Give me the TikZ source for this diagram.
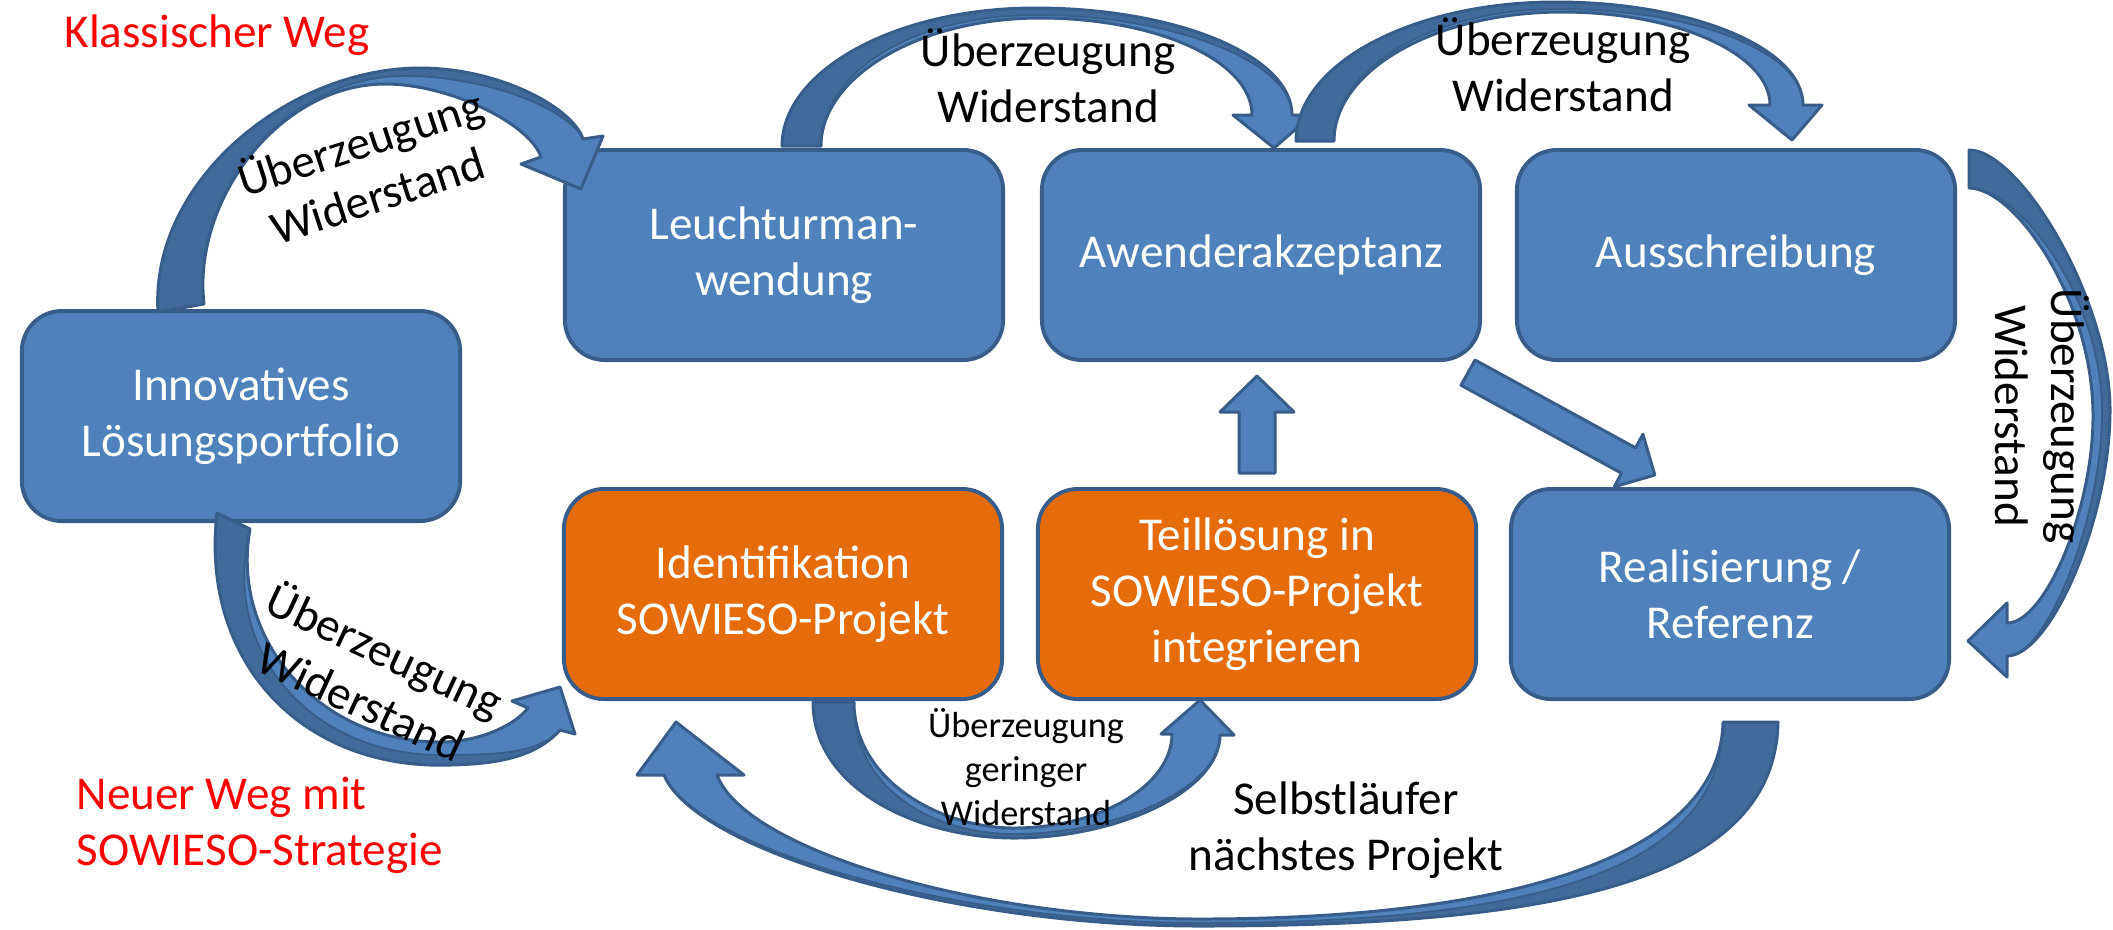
\documentclass[tikz,border=0pt]{standalone}
\usepackage{fontspec}
\setmainfont{Carlito}
\definecolor{boxblue}{HTML}{4F81BD}
\definecolor{bordc}{HTML}{385D8A}
\definecolor{boxorange}{HTML}{E46C0A}
\definecolor{arrdark}{HTML}{41699B}
\definecolor{redtxt}{HTML}{FF0000}
\newcommand\myBoxFont{\fontsize{13.4}{16}\selectfont}
\newcommand\mySmallFont{\fontsize{10.3}{12.5}\selectfont}
\begin{document}
\begin{tikzpicture}[x=0.01cm,y=-0.01cm,
  box/.style={draw=bordc, line width=1.1pt, rounded corners=0.4cm,
    minimum width=4.38cm, minimum height=2.1cm, align=center,
    text=white, font=\myBoxFont, inner sep=0pt},
  bluebox/.style={box, fill=boxblue},
  orangebox/.style={box, fill=boxorange},
  adark/.style={fill=arrdark},
  alight/.style={fill=boxblue},
  aline/.style={draw=bordc, line width=0.85pt, line join=round},
  asep/.style={draw=bordc, line width=0.5pt},
  lbl/.style={align=center, font=\myBoxFont, inner sep=0pt, text=black},
  redlbl/.style={font=\myBoxFont, inner sep=0pt, text=redtxt}]
\useasboundingbox (0,0) rectangle (2113,929);

% boxes
\node[bluebox] (innov) at (241,416) {Innovatives\\Lösungsportfolio};
\node[bluebox] (leucht) at (784,255) {Leuchturman-\\wendung};
\node[bluebox] (awend) at (1261,255) {Awenderakzeptanz};
\node[bluebox] (aussch) at (1736,255) {Ausschreibung};
\node[orangebox] (ident) at (783,594) {Identifikation\\SOWIESO-Projekt};
\node[orangebox] (teil) at (1257,594) {Teillösung in\\SOWIESO-Projekt\\integrieren};
\node[bluebox] (real) at (1730,594) {Realisierung /\\Referenz};

% Arrow A: innov -> leucht
\fill[adark] (158,312) .. controls (150,180) and (290,68) .. (420,68) .. controls (500,68) and (573,108) .. (583,139)
  .. controls (568,108) and (485,76) .. (405,76) .. controls (285,76) and (190,195) .. (204,304) -- cycle;
\fill[alight] (204,304) .. controls (190,195) and (285,76) .. (405,76) .. controls (485,76) and (568,108) .. (583,139)
  -- (603,136) -- (581,189) -- (521,164) -- (541,157)
  .. controls (530,124) and (450,84) .. (385,84) .. controls (280,84) and (192,200) .. (204,304) -- cycle;
\draw[asep] (204,304) .. controls (190,195) and (285,76) .. (405,76) .. controls (485,76) and (568,108) .. (583,139);
\draw[aline] (158,312) .. controls (150,180) and (290,68) .. (420,68) .. controls (500,68) and (573,108) .. (583,139)
  -- (603,136) -- (581,189) -- (521,164) -- (541,157)
  .. controls (530,124) and (450,84) .. (385,84) .. controls (280,84) and (192,200) .. (204,304) -- cycle;

% Arrow B: leucht -> awend
\fill[adark] (782,146) .. controls (782,71) and (895,8) .. (1035,8) .. controls (1177,8) and (1292,56) .. (1292,115)
  .. controls (1292,60) and (1168,15) .. (1037,15) .. controls (908,15) and (821,75) .. (821,146) -- cycle;
\fill[alight] (821,146) .. controls (821,75) and (908,15) .. (1037,15) .. controls (1168,15) and (1292,60) .. (1292,115)
  -- (1312,115) -- (1274,148) -- (1233,115) -- (1252,115)
  .. controls (1252,61) and (1157,18) .. (1040,18) .. controls (919,18) and (821,77) .. (821,146) -- cycle;
\draw[asep] (821,146) .. controls (821,75) and (908,15) .. (1037,15) .. controls (1168,15) and (1292,60) .. (1292,115);
\draw[aline] (782,146) .. controls (782,71) and (895,8) .. (1035,8) .. controls (1177,8) and (1292,56) .. (1292,115)
  -- (1312,115) -- (1274,148) -- (1233,115) -- (1252,115)
  .. controls (1252,61) and (1157,18) .. (1040,18) .. controls (919,18) and (821,77) .. (821,146) -- cycle;

% Arrow C: awend -> aussch
\fill[adark] (1296,141) .. controls (1296,64) and (1412,2) .. (1556,2) .. controls (1692,2) and (1803,48) .. (1803,105)
  .. controls (1803,50) and (1690,9) .. (1559,9) .. controls (1432,9) and (1334,68) .. (1334,141) -- cycle;
\fill[alight] (1334,141) .. controls (1334,68) and (1432,9) .. (1559,9) .. controls (1690,9) and (1803,50) .. (1803,105)
  -- (1822,105) -- (1792,140) -- (1749,105) -- (1770,105)
  .. controls (1770,54) and (1677,12) .. (1562,12) .. controls (1436,12) and (1334,70) .. (1334,141) -- cycle;
\draw[asep] (1334,141) .. controls (1334,68) and (1432,9) .. (1559,9) .. controls (1690,9) and (1803,50) .. (1803,105);
\draw[aline] (1296,141) .. controls (1296,64) and (1412,2) .. (1556,2) .. controls (1692,2) and (1803,48) .. (1803,105)
  -- (1822,105) -- (1792,140) -- (1749,105) -- (1770,105)
  .. controls (1770,54) and (1677,12) .. (1562,12) .. controls (1436,12) and (1334,70) .. (1334,141) -- cycle;

% Arrow D: aussch -> real
\fill[adark] (1969,150) .. controls (2020,150) and (2110,300) .. (2110,410) .. controls (2110,520) and (2050,656) .. (2007,656)
  .. controls (2048,656) and (2102,515) .. (2102,413) .. controls (2102,295) and (2018,188) .. (1969,188) -- cycle;
\fill[alight] (1969,188) .. controls (2018,188) and (2102,295) .. (2102,413) .. controls (2102,515) and (2048,656) .. (2007,656)
  -- (2007,677) -- (1968,641) -- (2007,603) -- (2007,623)
  .. controls (2045,623) and (2093,510) .. (2093,416) .. controls (2093,300) and (2015,188) .. (1969,188) -- cycle;
\draw[asep] (1969,188) .. controls (2018,188) and (2102,295) .. (2102,413) .. controls (2102,515) and (2048,656) .. (2007,656);
\draw[aline] (1969,150) .. controls (2020,150) and (2110,300) .. (2110,410) .. controls (2110,520) and (2050,656) .. (2007,656)
  -- (2007,677) -- (1968,641) -- (2007,603) -- (2007,623)
  .. controls (2045,623) and (2093,510) .. (2093,416) .. controls (2093,300) and (2015,188) .. (1969,188) -- cycle;

% Arrow E: innov -> ident
\fill[adark] (217,513) .. controls (200,660) and (300,770) .. (450,765) .. controls (495,764) and (535,758) .. (560,730)
  .. controls (535,756) and (490,754) .. (445,755) .. controls (310,757) and (220,650) .. (250,529) -- cycle;
\fill[alight] (250,529) .. controls (220,650) and (310,757) .. (445,755) .. controls (490,754) and (535,756) .. (560,730)
  -- (575,734) -- (560,687) -- (512,701) -- (528,708)
  .. controls (515,725) and (480,742) .. (440,742) .. controls (320,742) and (230,640) .. (250,529) -- cycle;
\draw[asep] (250,529) .. controls (220,650) and (310,757) .. (445,755) .. controls (490,754) and (535,756) .. (560,730);
\draw[aline] (217,513) .. controls (200,660) and (300,770) .. (450,765) .. controls (495,764) and (535,758) .. (560,730)
  -- (575,734) -- (560,687) -- (512,701) -- (528,708)
  .. controls (515,725) and (480,742) .. (440,742) .. controls (320,742) and (230,640) .. (250,529) -- cycle;

% Arrow F: ident -> teil
\fill[adark] (813,702) .. controls (813,790) and (920,838) .. (1014,838) .. controls (1120,838) and (1220,790) .. (1220,735)
  .. controls (1220,788) and (1117,834) .. (1014,834) .. controls (930,834) and (852,786) .. (854,702) -- cycle;
\fill[alight] (854,702) .. controls (852,786) and (930,834) .. (1014,834) .. controls (1117,834) and (1220,788) .. (1220,735)
  -- (1234,735) -- (1200,700) -- (1161,734) -- (1172,734)
  .. controls (1172,785) and (1100,828) .. (1014,828) .. controls (940,828) and (854,780) .. (854,702) -- cycle;
\draw[asep] (854,702) .. controls (852,786) and (930,834) .. (1014,834) .. controls (1117,834) and (1220,788) .. (1220,735);
\draw[aline] (813,702) .. controls (813,790) and (920,838) .. (1014,838) .. controls (1120,838) and (1220,790) .. (1220,735)
  -- (1234,735) -- (1200,700) -- (1161,734) -- (1172,734)
  .. controls (1172,785) and (1100,828) .. (1014,828) .. controls (940,828) and (854,780) .. (854,702) -- cycle;

% Arrow G: real -> ident
\fill[adark] (1778,722) .. controls (1775,880) and (1560,926) .. (1200,926) .. controls (950,926) and (695,850) .. (664,775)
  .. controls (700,852) and (965,923) .. (1200,923) .. controls (1530,923) and (1722,872) .. (1723,722) -- cycle;
\fill[alight] (1723,722) .. controls (1722,872) and (1530,923) .. (1200,923) .. controls (965,923) and (700,852) .. (664,775)
  -- (637,775) -- (676,722) -- (744,775) -- (717,775)
  .. controls (745,850) and (980,919) .. (1200,919) .. controls (1500,919) and (1720,860) .. (1723,722) -- cycle;
\draw[asep] (1723,722) .. controls (1722,872) and (1530,923) .. (1200,923) .. controls (965,923) and (700,852) .. (664,775);
\draw[aline] (1778,722) .. controls (1775,880) and (1560,926) .. (1200,926) .. controls (950,926) and (695,850) .. (664,775)
  -- (637,775) -- (676,722) -- (744,775) -- (717,775)
  .. controls (745,850) and (980,919) .. (1200,919) .. controls (1500,919) and (1720,860) .. (1723,722) -- cycle;

% Arrow H: teil -> awend (straight up)
\filldraw[alight, aline] (1239,473) -- (1239,412) -- (1220,412) -- (1257,376) -- (1294,412) -- (1275,412) -- (1275,473) -- cycle;

% Arrow I: awend -> real (diagonal)
\filldraw[alight, aline] (1475,360) -- (1635.5,447.8) -- (1642.9,434.2) -- (1654.8,475) -- (1614.1,486.8) -- (1621.5,473.2) -- (1461,385.2) -- cycle;

% labels
\node[lbl, rotate=18] (lA) at (368,167) {Überzeugung\\Widerstand};
\node[lbl] (lB) at (1048,76) {Überzeugung\\Widerstand};
\node[lbl] (lC) at (1563,65) {Überzeugung\\Widerstand};
\node[lbl, rotate=-90] (lD) at (2042,416) {Überzeugung\\Widerstand};
\node[lbl, rotate=-25] (lE) at (374,674) {Überzeugung\\Widerstand};
\node[lbl, font=\mySmallFont] (lF) at (1026,767) {Überzeugung\\geringer\\Widerstand};
\node[lbl] (lG) at (1346,830) {Selbstläufer\\nächstes Projekt};
\node[redlbl] (kw) at (217,35) {Klassischer Weg};
\node[redlbl, anchor=west, align=left] (nw) at (76,825) {Neuer Weg mit\\SOWIESO-Strategie};
\end{tikzpicture}
\end{document}
